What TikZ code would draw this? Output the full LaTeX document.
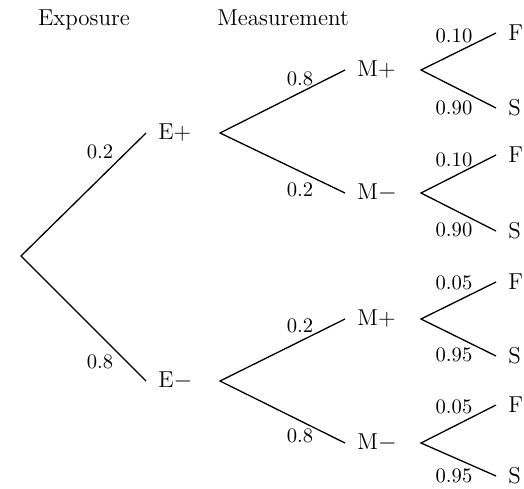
\documentclass[tikz,border=0pt]{standalone}
\begin{document}
\begin{tikzpicture}[x=0.5pt,y=-0.5pt,
  state/.style={inner sep=0pt,anchor=west,font=\fontsize{11.5}{14}\selectfont},
  head/.style={inner sep=0pt,anchor=base,font=\fontsize{11.5}{14}\selectfont},
  prob/.style={inner sep=0pt,font=\fontsize{10.3}{12}\selectfont},
  branch/.style={line width=0.65pt}]
\useasboundingbox (0,0) rectangle (524,488);
% headers
\node[head] (hE) at (84,25) {Exposure};
\node[head] (hM) at (283,25) {Measurement};
% apexes
\coordinate (root) at (21,256);
\coordinate (aEp) at (220,133);
\coordinate (aEm) at (220,381);
\coordinate (a1) at (421,70);
\coordinate (a2) at (421,193);
\coordinate (a3) at (421,319);
\coordinate (a4) at (421,443);
% states
\node[state] (Ep) at (158,133) {E+};
\node[state] (Em) at (158,381) {E$-$};
\node[state] (M1) at (357,70) {M+};
\node[state] (M2) at (357,193) {M$-$};
\node[state] (M3) at (357,319) {M+};
\node[state] (M4) at (357,443) {M$-$};
\node[state] (F1) at (508,33) {F};
\node[state] (S1) at (508,108) {S};
\node[state] (F2) at (508,155) {F};
\node[state] (S2) at (508,231) {S};
\node[state] (F3) at (508,282) {F};
\node[state] (S3) at (508,356) {S};
\node[state] (F4) at (508,405) {F};
\node[state] (S4) at (508,476) {S};
% connectors
\draw[branch] ([xshift=-6pt]Ep.west) -- (root) -- ([xshift=-6pt]Em.west);
\draw[branch] ([xshift=-6pt]M1.west) -- (aEp) -- ([xshift=-6pt]M2.west);
\draw[branch] ([xshift=-6pt]M3.west) -- (aEm) -- ([xshift=-6pt]M4.west);
\draw[branch] ([xshift=-6pt]F1.west) -- (a1) -- ([xshift=-6pt]S1.west);
\draw[branch] ([xshift=-6pt]F2.west) -- (a2) -- ([xshift=-6pt]S2.west);
\draw[branch] ([xshift=-6pt]F3.west) -- (a3) -- ([xshift=-6pt]S3.west);
\draw[branch] ([xshift=-6pt]F4.west) -- (a4) -- ([xshift=-6pt]S4.west);
% probabilities
\node[prob] (pEp) at (100,152) {0.2};
\node[prob] (pEm) at (100,362) {0.8};
\node[prob] (p1) at (300,79) {0.8};
\node[prob] (p2) at (300,190) {0.2};
\node[prob] (p3) at (300,326) {0.2};
\node[prob] (p4) at (300,436) {0.8};
\node[prob] (q1) at (454,36) {0.10};
\node[prob] (q2) at (454,108) {0.90};
\node[prob] (q3) at (454,160) {0.10};
\node[prob] (q4) at (454,230) {0.90};
\node[prob] (q5) at (454,283) {0.05};
\node[prob] (q6) at (454,355) {0.95};
\node[prob] (q7) at (454,407) {0.05};
\node[prob] (q8) at (454,476) {0.95};
\end{tikzpicture}
\end{document}
